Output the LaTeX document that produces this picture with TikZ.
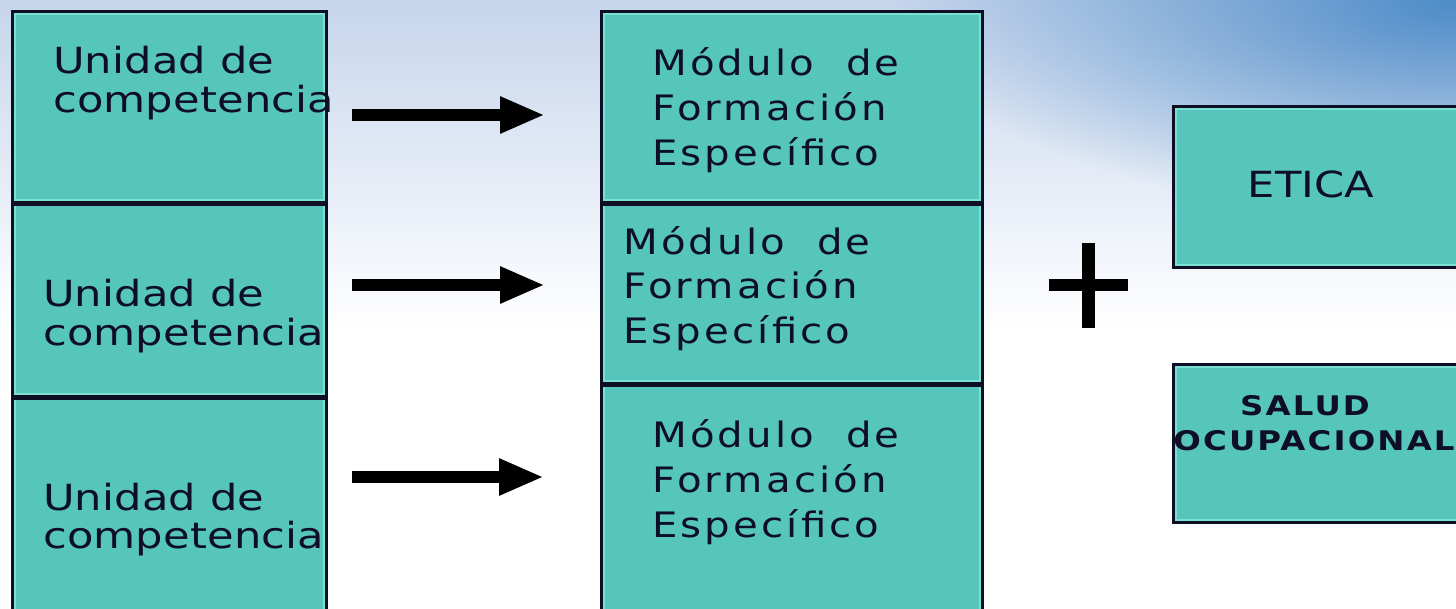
\documentclass[tikz,border=0pt]{standalone}
\usepackage{fontspec}
\setmainfont{DejaVu Sans}
\newfontfamily\unifont[FakeStretch=1.2,LetterSpace=0.5]{DejaVu Sans}
\newfontfamily\modfont[FakeStretch=1.15,LetterSpace=9]{DejaVu Sans}
\newfontfamily\salfont[FakeStretch=1.2,LetterSpace=8]{DejaVu Sans}
\usetikzlibrary{arrows.meta,fadings}
\tikzfading[name=skyfade, inner color=transparent!0, outer color=transparent!100]
\definecolor{tealfill}{RGB}{86,198,188}
\definecolor{tealbevel}{RGB}{122,224,210}
\definecolor{ink}{RGB}{14,14,36}
\definecolor{skytop}{RGB}{198,213,236}
\definecolor{skydark}{RGB}{78,140,200}
\tikzset{
  cell/.style={draw=ink, line width=3pt, fill=tealfill, inner sep=0pt, anchor=north west},
  bevel/.style={draw=tealbevel, line width=1.5pt},
  unitxt/.style={inner sep=0pt, anchor=base west, text=ink, font=\unifont\fontsize{36}{40}\selectfont},
  modtxt/.style={inner sep=0pt, anchor=base west, text=ink, font=\modfont\fontsize{35}{40}\selectfont},
  etitxt/.style={inner sep=0pt, anchor=base, text=ink, font=\unifont\fontsize{36}{40}\selectfont},
  saltxt/.style={inner sep=0pt, anchor=base, text=ink, font=\salfont\bfseries\fontsize{27}{30}\selectfont},
  bigarrow/.style={draw=black, line width=12pt, -{Triangle[length=45pt,width=34pt]}},
}
\begin{document}
\begin{tikzpicture}[x=1pt,y=-1pt]
\useasboundingbox (0,0) rectangle (1456,608);
\clip (0,0) rectangle (1456,608);
% background sky
\fill[white] (0,0) rectangle (1456,608);
\shade[top color=skytop, bottom color=white] (0,0) rectangle (1456,330);
\fill[skydark, path fading=skyfade] (1456,0) ellipse [x radius=560pt, y radius=220pt];

% left column
\node[cell, minimum width=314pt, minimum height=191pt] (l1) at (11,10) {};
\node[cell, minimum width=314pt, minimum height=194pt] (l2) at (11,201) {};
\node[cell, minimum width=314pt, minimum height=230pt] (l3) at (11,395) {};
% middle column
\node[cell, minimum width=381pt, minimum height=191pt] (m1) at (600,10) {};
\node[cell, minimum width=381pt, minimum height=181pt] (m2) at (600,201) {};
\node[cell, minimum width=381pt, minimum height=240pt] (m3) at (600,382) {};
% right boxes
\node[cell, minimum width=300pt, minimum height=161pt] (et) at (1172,105) {};
\node[cell, minimum width=300pt, minimum height=158pt] (sa) at (1172,363) {};

\foreach \b in {l1,l2,l3,m1,m2,m3,et,sa}{
  \draw[bevel] ([shift={(4pt,-4pt)}]\b.north west) rectangle ([shift={(-4pt,4pt)}]\b.south east);
}
\draw[ink, line width=3pt] (l1.south west) -- (l1.south east);
\draw[ink, line width=3pt] (l2.south west) -- (l2.south east);
\draw[ink, line width=3pt] (m1.south west) -- (m1.south east);
\draw[ink, line width=3pt] (m2.south west) -- (m2.south east);

% texts left
\node[unitxt] (l1a) at (53,73) {Unidad de};
\node[unitxt] (l1b) at (53,112) {competencia};
\node[unitxt] (l2a) at (43,306) {Unidad de};
\node[unitxt] (l2b) at (43,345) {competencia};
\node[unitxt] (l3a) at (43,510) {Unidad de};
\node[unitxt] (l3b) at (43,548) {competencia};
% texts middle
\node[modtxt] (m1a) at (652,75) {Módulo\ \ de};
\node[modtxt] (m1b) at (652,120) {Formación};
\node[modtxt] (m1c) at (652,165) {Específico};
\node[modtxt] (m2a) at (623,254) {Módulo\ \ de};
\node[modtxt] (m2b) at (623,298) {Formación};
\node[modtxt] (m2c) at (623,343) {Específico};
\node[modtxt] (m3a) at (652,447) {Módulo\ \ de};
\node[modtxt] (m3b) at (652,492) {Formación};
\node[modtxt] (m3c) at (652,537) {Específico};
% right texts
\node[etitxt] (ett) at (1311,197) {ETICA};
\node[saltxt] (sat1) at (1305,415) {SALUD};
\node[saltxt] (sat2) at (1314,450) {OCUPACIONAL};

% arrows
\coordinate (a1s) at (352,115); \coordinate (a1e) at (545,115);
\coordinate (a2s) at (352,285); \coordinate (a2e) at (545,285);
\coordinate (a3s) at (352,477); \coordinate (a3e) at (544,477);
\draw[bigarrow] (a1s) -- (a1e);
\draw[bigarrow] (a2s) -- (a2e);
\draw[bigarrow] (a3s) -- (a3e);

% plus sign
\fill[black] (1049,279) rectangle (1128,291);
\fill[black] (1082,243) rectangle (1095,328);
\end{tikzpicture}
\end{document}
